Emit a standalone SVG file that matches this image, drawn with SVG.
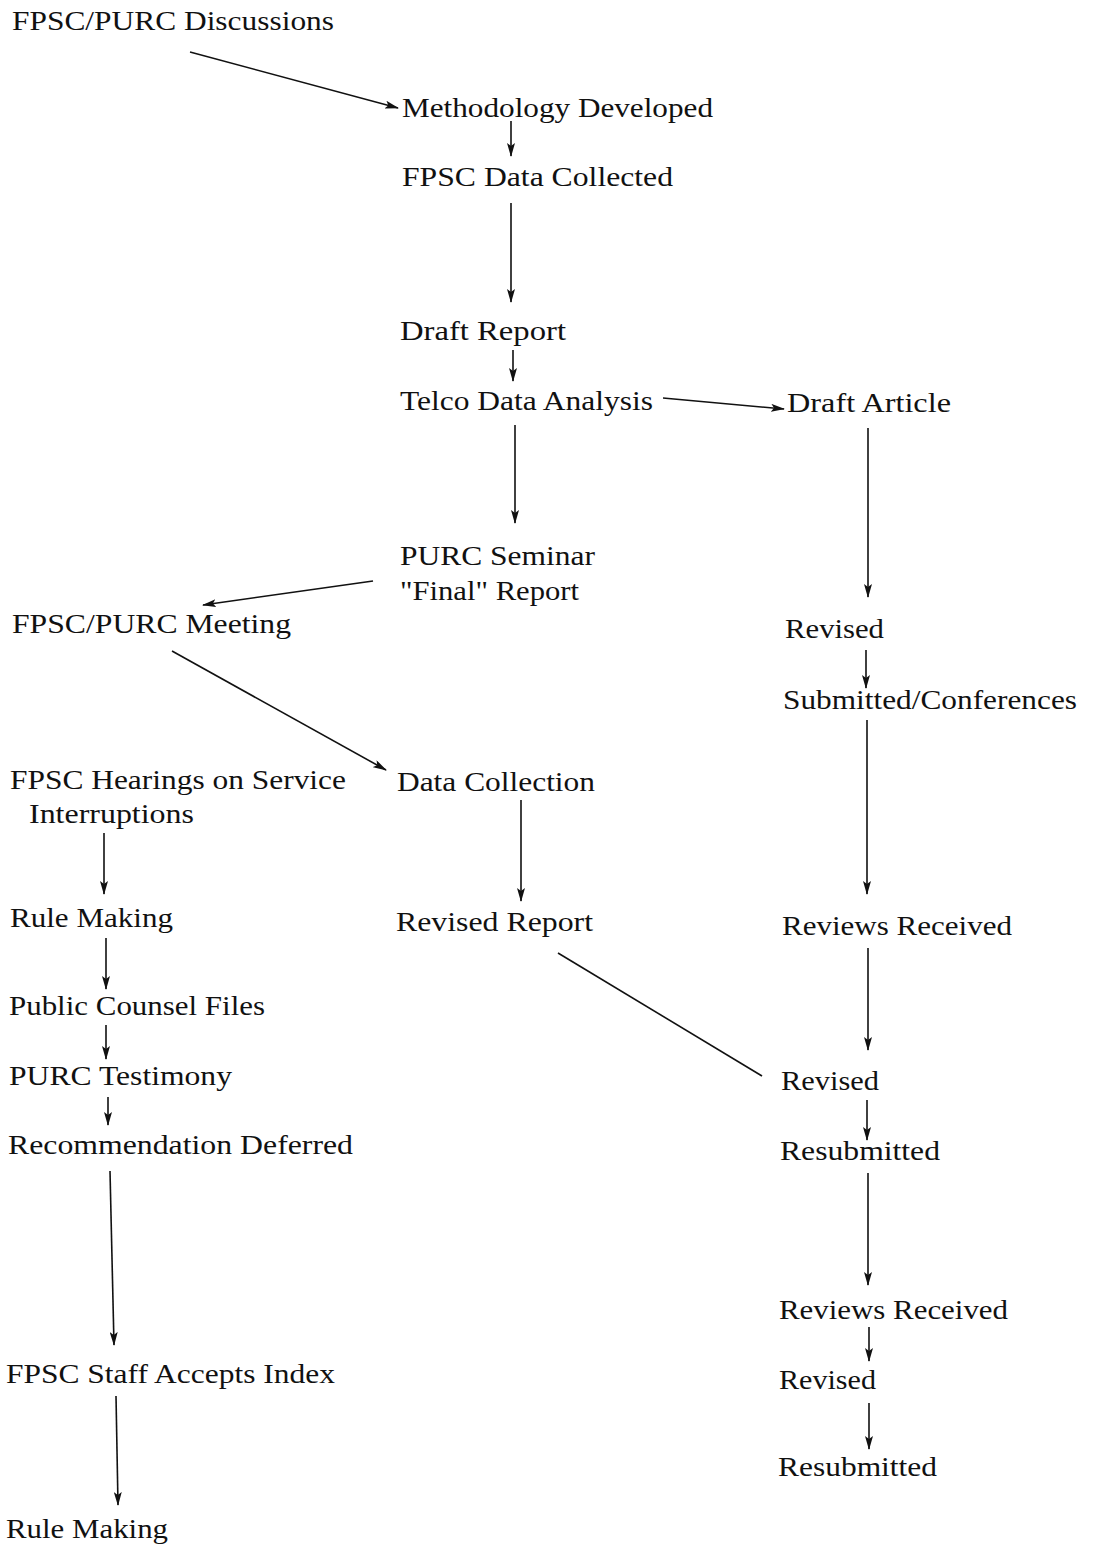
<svg xmlns="http://www.w3.org/2000/svg" width="1093" height="1547" viewBox="0 0 1093 1547">
<style>
text{font-family:"Liberation Serif","DejaVu Serif",serif;font-size:28px;fill:#111}
.c line{stroke:#111;stroke-width:1.6;fill:none}
.a{marker-end:url(#ah)}
</style>
<defs>
<marker id="ah" viewBox="0 0 14 8" refX="13" refY="4" markerWidth="14" markerHeight="8" markerUnits="userSpaceOnUse" orient="auto">
<path d="M0,0 L14,4 L0,8 L3,4 Z" fill="#111"/>
</marker>
</defs>
<rect width="1093" height="1547" fill="#fff"/>
<g id="n1"><text x="12" y="30" textLength="322" lengthAdjust="spacingAndGlyphs">FPSC/PURC Discussions</text></g>
<g id="n2"><text x="402" y="117" textLength="311" lengthAdjust="spacingAndGlyphs">Methodology Developed</text></g>
<g id="n3"><text x="402" y="186" textLength="271" lengthAdjust="spacingAndGlyphs">FPSC Data Collected</text></g>
<g id="n4"><text x="400" y="340" textLength="166" lengthAdjust="spacingAndGlyphs">Draft Report</text></g>
<g id="n5"><text x="400" y="410" textLength="253" lengthAdjust="spacingAndGlyphs">Telco Data Analysis</text></g>
<g id="n6"><text x="787" y="412" textLength="164" lengthAdjust="spacingAndGlyphs">Draft Article</text></g>
<g id="n7"><text x="400" y="565" textLength="195" lengthAdjust="spacingAndGlyphs">PURC Seminar</text><text x="400" y="600" textLength="179" lengthAdjust="spacingAndGlyphs">"Final" Report</text></g>
<g id="n8"><text x="12" y="633" textLength="279" lengthAdjust="spacingAndGlyphs">FPSC/PURC Meeting</text></g>
<g id="n9"><text x="785" y="638" textLength="99" lengthAdjust="spacingAndGlyphs">Revised</text></g>
<g id="n10"><text x="783" y="709" textLength="294" lengthAdjust="spacingAndGlyphs">Submitted/Conferences</text></g>
<g id="n11"><text x="10" y="789" textLength="336" lengthAdjust="spacingAndGlyphs">FPSC Hearings on Service</text><text x="29" y="823" textLength="165" lengthAdjust="spacingAndGlyphs">Interruptions</text></g>
<g id="n12"><text x="397" y="791" textLength="198" lengthAdjust="spacingAndGlyphs">Data Collection</text></g>
<g id="n13"><text x="10" y="927" textLength="163" lengthAdjust="spacingAndGlyphs">Rule Making</text></g>
<g id="n14"><text x="396" y="931" textLength="197" lengthAdjust="spacingAndGlyphs">Revised Report</text></g>
<g id="n15"><text x="782" y="935" textLength="230" lengthAdjust="spacingAndGlyphs">Reviews Received</text></g>
<g id="n16"><text x="9" y="1015" textLength="256" lengthAdjust="spacingAndGlyphs">Public Counsel Files</text></g>
<g id="n17"><text x="9" y="1085" textLength="223" lengthAdjust="spacingAndGlyphs">PURC Testimony</text></g>
<g id="n18"><text x="8" y="1154" textLength="345" lengthAdjust="spacingAndGlyphs">Recommendation Deferred</text></g>
<g id="n19"><text x="781" y="1090" textLength="98" lengthAdjust="spacingAndGlyphs">Revised</text></g>
<g id="n20"><text x="780" y="1160" textLength="160" lengthAdjust="spacingAndGlyphs">Resubmitted</text></g>
<g id="n21"><text x="779" y="1319" textLength="229" lengthAdjust="spacingAndGlyphs">Reviews Received</text></g>
<g id="n22"><text x="779" y="1389" textLength="97" lengthAdjust="spacingAndGlyphs">Revised</text></g>
<g id="n23"><text x="778" y="1476" textLength="159" lengthAdjust="spacingAndGlyphs">Resubmitted</text></g>
<g id="n24"><text x="6" y="1383" textLength="329" lengthAdjust="spacingAndGlyphs">FPSC Staff Accepts Index</text></g>
<g id="n25"><text x="6" y="1538" textLength="162" lengthAdjust="spacingAndGlyphs">Rule Making</text></g>
<g id="connectors" class="c">
<line class="a" x1="190" y1="52" x2="398" y2="108"/>
<line class="a" x1="511" y1="121" x2="511" y2="156"/>
<line class="a" x1="511" y1="203" x2="511" y2="302"/>
<line class="a" x1="513" y1="350" x2="513" y2="381"/>
<line class="a" x1="663" y1="398" x2="784" y2="409"/>
<line class="a" x1="515" y1="425" x2="515" y2="523"/>
<line class="a" x1="373" y1="581" x2="203" y2="605"/>
<line class="a" x1="868" y1="428" x2="868" y2="597"/>
<line class="a" x1="866" y1="650" x2="866" y2="688"/>
<line class="a" x1="172" y1="651" x2="386" y2="770"/>
<line class="a" x1="521" y1="800" x2="521" y2="901"/>
<line class="a" x1="104" y1="833" x2="104" y2="894"/>
<line class="a" x1="867" y1="720" x2="867" y2="894"/>
<line class="a" x1="106" y1="938" x2="106" y2="989"/>
<line class="a" x1="868" y1="948" x2="868" y2="1050"/>
<line x1="558" y1="953" x2="762" y2="1076"/>
<line class="a" x1="106" y1="1025" x2="106" y2="1059"/>
<line class="a" x1="108" y1="1097" x2="108" y2="1125"/>
<line class="a" x1="867" y1="1100" x2="867" y2="1140"/>
<line class="a" x1="868" y1="1173" x2="868" y2="1285"/>
<line class="a" x1="110" y1="1171" x2="114" y2="1345"/>
<line class="a" x1="869" y1="1327" x2="869" y2="1361"/>
<line class="a" x1="869" y1="1403" x2="869" y2="1449"/>
<line class="a" x1="116" y1="1396" x2="118" y2="1505"/>
</g>
</svg>
